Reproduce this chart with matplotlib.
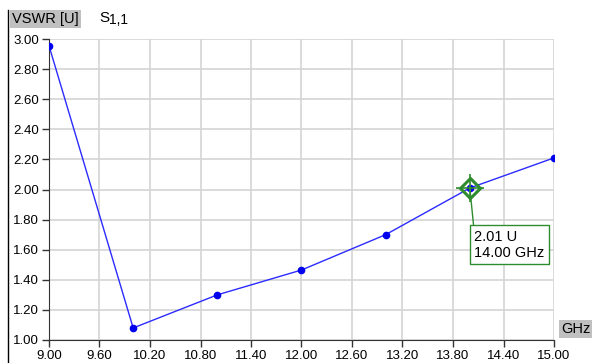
import numpy as np
import matplotlib.pyplot as plt
from matplotlib.lines import Line2D

freq = [9.0, 10.0, 11.0, 12.0, 13.0, 14.0, 15.0]
vswr = [2.955, 1.08, 1.30, 1.465, 1.70, 2.01, 2.21]
xticks = [9.00, 9.60, 10.20, 10.80, 11.40, 12.00, 12.60, 13.20, 13.80, 14.40, 15.00]
yticks = [1.00, 1.20, 1.40, 1.60, 1.80, 2.00, 2.20, 2.40, 2.60, 2.80, 3.00]
marker_f, marker_v = 14.0, 2.01

plt.rcParams['font.family'] = ['Liberation Sans', 'DejaVu Sans']
plt.rcParams['font.size'] = 9.5

W, H = 592, 363
fig = plt.figure(figsize=(W / 100, H / 100), dpi=100)
ax = fig.add_axes([49 / W, (H - 340) / H, 505 / W, 301 / H])

ax.plot(freq, vswr, color='#2b2bff', lw=1, marker='o', ms=4.5,
        markerfacecolor='#0000ee', markeredgecolor='#0000ee', zorder=3)

ax.set_xlim(9, 15)
ax.set_ylim(1, 3)
ax.set_xticks(xticks)
ax.set_xticklabels(['%.2f' % t for t in xticks])
ax.set_yticks(yticks)
ax.set_yticklabels(['%.2f' % t for t in yticks])
ax.grid(True, color='#d4d4d4', lw=1.2)
ax.set_axisbelow(True)
for s in ['top', 'right']:
    ax.spines[s].set_visible(False)
for s in ['left', 'bottom']:
    ax.spines[s].set_color('#333333')
ax.tick_params(direction='out', length=5, width=1, color='#333333', labelsize=9.5, pad=2)

# marker at 14 GHz
ax.plot([marker_f], [marker_v], marker='D', ms=10, mfc='none', mec='#2e8b2e', mew=2.2, zorder=4)
ax.plot([marker_f], [marker_v], marker='+', ms=20, mec='#2e8b2e', mew=1.2, zorder=4)
ax.annotate('%.2f U\n%.2f GHz' % (marker_v, marker_f), xy=(marker_f, marker_v),
            xytext=(3, -30), textcoords='offset points', ha='left', va='top',
            fontsize=10.5, linespacing=1.2,
            bbox=dict(boxstyle='square,pad=0.3', fc='white', ec='#2e8b2e', lw=1),
            arrowprops=dict(arrowstyle='-', color='#2e8b2e', lw=1,
                            shrinkA=0, shrinkB=0, relpos=(0, 1)))

fig.text(12 / W, 1 - 19 / H, 'VSWR [U]', fontsize=10.5, va='center', ha='left',
         bbox=dict(boxstyle='square,pad=0.15', fc='#c0c0c0', ec='none'))
fig.text(99 / W, 1 - 18 / H, 'S', fontsize=11, va='center', ha='left')
fig.text(109 / W, 1 - 20 / H, '1,1', fontsize=10, va='center', ha='left')
fig.text(561 / W, 1 - 329 / H, 'GHz', fontsize=10.5, va='center', ha='left',
         bbox=dict(boxstyle='square,pad=0.15', fc='#c0c0c0', ec='none'))

fig.add_artist(Line2D([8 / W, 8 / W], [0, 1 - 10 / H], color='black', lw=1))

fig.savefig('out.png', dpi=100)
